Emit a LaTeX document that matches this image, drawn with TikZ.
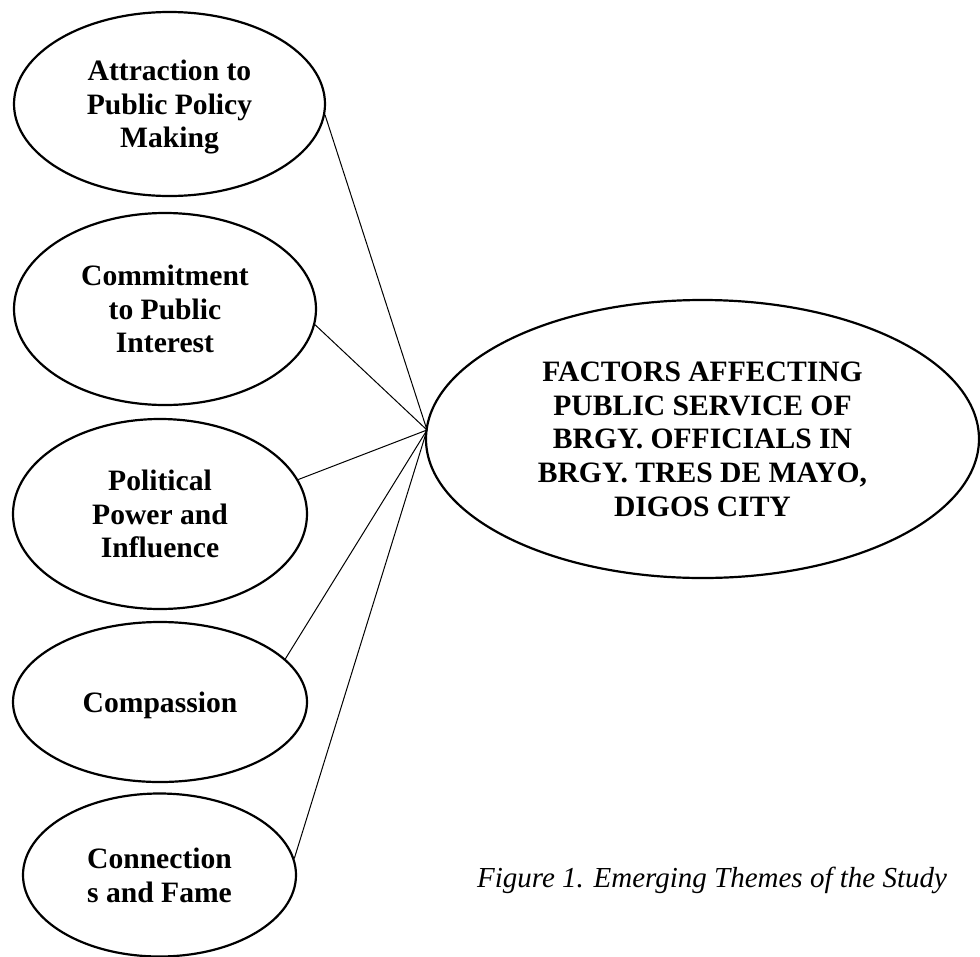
\documentclass[tikz,border=0pt]{standalone}
\usepackage{fontspec}
\setmainfont{Liberation Serif}
\usetikzlibrary{shapes.geometric}
\begin{document}
\begin{tikzpicture}[x=1pt,y=-1pt,
  theme/.style={ellipse,draw,line width=2.2pt,inner sep=0pt,align=center,text depth=0pt,
    font=\fontsize{29.6}{33.6}\selectfont\bfseries},
  link/.style={draw,line width=1pt}]
\useasboundingbox (0,0) rectangle (980,956);
\node[theme,minimum width=311pt,minimum height=184pt] (e1) at (169.5,104) {Attraction to\\Public Policy\\Making};
\node[theme,minimum width=302pt,minimum height=192pt] (e2) at (165,309) {Commitment\\to Public\\Interest};
\node[theme,minimum width=294pt,minimum height=190pt] (e3) at (160,514) {Political\\Power and\\Influence};
\node[theme,minimum width=294pt,minimum height=160pt] (e4) at (160,702) {Compassion};
\node[theme,minimum width=273pt,minimum height=163pt] (e5) at (159.5,875) {Connection\\s and Fame};
\node[theme,minimum width=553pt,minimum height=278pt] (big) at (702.5,439) {FACTORS AFFECTING\\PUBLIC SERVICE OF\\BRGY. OFFICIALS IN\\BRGY. TRES DE MAYO,\\DIGOS CITY};
\coordinate (P) at (427,430);
\draw[link] (e1.-4) -- (P);
\draw[link] (e2.-6) -- (P);
\draw[link] (e3.14) -- (P);
\draw[link] (e4.19) -- (P);
\draw[link] (e5.7) -- (P);
\node[anchor=base,font=\fontsize{29}{33.6}\selectfont\itshape,inner sep=0pt] (cap) at (712,887) {Figure 1. Emerging Themes of the Study};
\end{tikzpicture}
\end{document}
